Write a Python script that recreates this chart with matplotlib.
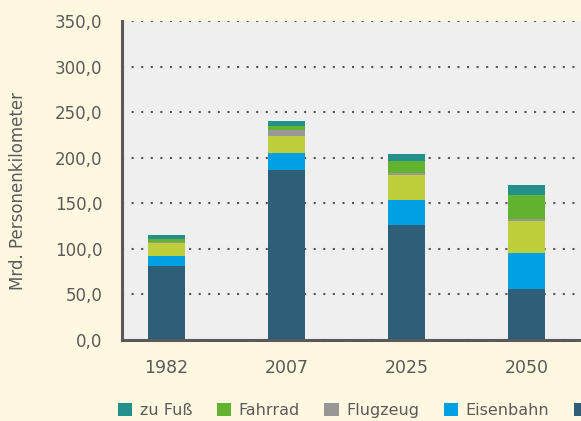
import matplotlib.pyplot as plt
import numpy as np

years = ['1982', '2007', '2025', '2050']
# stacked from bottom to top, Mrd. Personenkilometer
pkw = [81.5, 186.5, 126.2, 56.0]
eisenbahn = [10.7, 18.7, 27.4, 39.5]
oespv = [14.2, 19.0, 27.4, 35.1]
flugzeug = [1.1, 6.2, 2.2, 2.2]
fahrrad = [3.5, 4.4, 13.2, 26.3]
zu_fuss = [4.2, 5.5, 7.6, 10.9]
yticks = [0, 50, 100, 150, 200, 250, 300, 350]

series = [
    ('MIV', pkw, '#2f5f78'),
    ('Eisenbahn', eisenbahn, '#00a0e3'),
    ('ÖSPV', oespv, '#bfcf3b'),
    ('Flugzeug', flugzeug, '#979797'),
    ('Fahrrad', fahrrad, '#62b22f'),
    ('zu Fuß', zu_fuss, '#24908c'),
]

txt = '#5a5a5a'
fig = plt.figure(figsize=(5.81, 4.21), dpi=100, facecolor='#fff8e1')
ax = fig.add_axes([122 / 581, 81 / 421, 480 / 581, 319 / 421])
ax.set_facecolor('#efefef')

x = np.arange(len(years))
bottom = np.zeros(len(years))
bars = {}
for label, vals, color in series:
    bars[label] = ax.bar(x, vals, 0.31, bottom=bottom, color=color, label=label, zorder=3)
    bottom += np.array(vals)

ax.set_xlim(-0.37, 3.63)
ax.set_ylim(0, 350)
ax.set_yticks(yticks)
ax.set_yticklabels([f'{v:.1f}'.replace('.', ',') for v in yticks])
ax.set_xticks(x)
ax.set_xticklabels(years)

ax.grid(True, axis='y', color='#555555', linestyle=(0, (1, 3.6)), linewidth=1.5, zorder=1)
for s in ['top', 'right']:
    ax.spines[s].set_visible(False)
for s in ['left', 'bottom']:
    ax.spines[s].set_color('#595959')
    ax.spines[s].set_linewidth(2.2)
    ax.spines[s].set_zorder(4)

ax.tick_params(axis='y', length=0, pad=14, labelsize=12, labelcolor=txt)
ax.tick_params(axis='x', length=0, pad=14, labelsize=12.5, labelcolor=txt)
ax.set_ylabel('Mrd. Personenkilometer', fontsize=12, color=txt)
ax.yaxis.set_label_coords(-0.198, 0.467)

# the last entry is cut off by the right edge in the original, only its square shows
order = ['zu Fuß', 'Fahrrad', 'Flugzeug', 'Eisenbahn', 'MIV']
labels = ['zu Fuß', 'Fahrrad', 'Flugzeug', 'Eisenbahn', '']
fig.legend([bars[k] for k in order], labels, loc='center left',
           bbox_to_anchor=(118 / 581, 10.5 / 421), ncol=5, frameon=False,
           fontsize=11.5, labelcolor=txt, handlelength=0.9, handleheight=0.9,
           handletextpad=0.45, columnspacing=1.55, borderpad=0, borderaxespad=0)

fig.savefig('out.png', dpi=100, facecolor=fig.get_facecolor())
